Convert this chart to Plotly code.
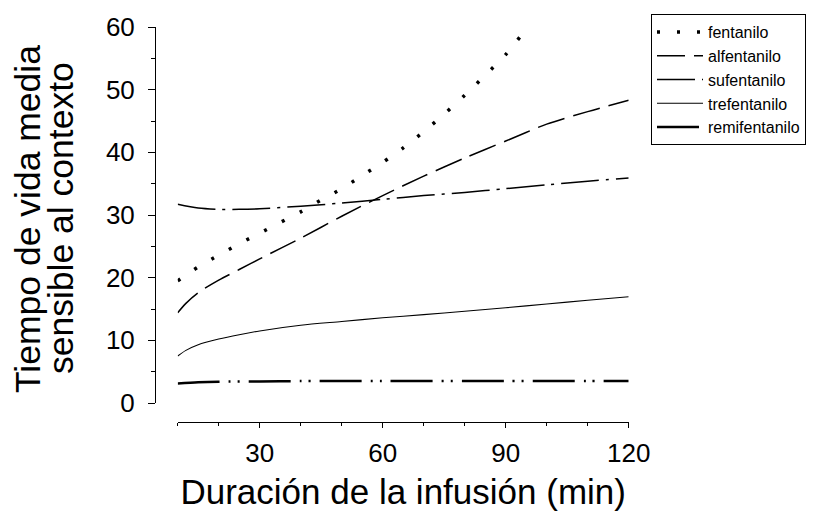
import plotly.graph_objects as go

W, H = 819, 511

# ---- data ----
fent_x = [10, 15, 20, 25, 30, 35, 40, 45, 50, 55, 60, 65, 70, 75, 80, 85, 90, 95]
fent_y = [19.5, 21.7, 23.6, 25.4, 27.1, 28.8, 30.5, 32.4, 34.2, 36.3, 38.4, 40.7, 43.3, 46.1, 49.1, 52.3, 55.6, 59.7]

alf_x = [10, 12, 15, 20, 25, 30, 40, 50, 60, 70, 80, 90, 100, 110, 120]
alf_y = [14.4, 15.9, 17.6, 19.6, 21.3, 23.0, 26.3, 29.8, 33.1, 36.2, 39.1, 41.8, 44.5, 46.5, 48.3]

suf_x = [10, 15, 20, 25, 30, 40, 50, 60, 70, 80, 90, 100, 110, 120]
suf_y = [31.7, 31.1, 30.9, 30.9, 31.0, 31.4, 31.9, 32.5, 33.1, 33.6, 34.2, 34.8, 35.4, 35.9]

tre_x = [10, 12, 15, 20, 25, 30, 40, 50, 60, 70, 80, 90, 100, 110, 120]
tre_y = [7.5, 8.4, 9.3, 10.2, 10.9, 11.5, 12.4, 13.0, 13.6, 14.1, 14.65, 15.2, 15.8, 16.4, 16.95]

remi_x = [10, 15, 20, 30, 40, 50, 60, 70, 80, 90, 100, 110, 120]
remi_y = [3.1, 3.3, 3.4, 3.45, 3.5, 3.5, 3.5, 3.5, 3.5, 3.5, 3.5, 3.5, 3.5]

names = ["fentanilo", "alfentanilo", "sufentanilo", "trefentanilo", "remifentanilo"]
x_title = "Duración de la infusión (min)"
y_title_1 = "Tiempo de vida media"
y_title_2 = "sensible al contexto"

FONT = "Liberation Sans, Arial, sans-serif"

series = [
    (fent_x, fent_y, dict(color="black", width=3.5, dash="3px,17px")),
    (alf_x, alf_y, dict(color="black", width=1.5, dash="28px,9px")),
    (suf_x, suf_y, dict(color="black", width=1.5, dash="38px,7px,3px,7px")),
    (tre_x, tre_y, dict(color="black", width=1.1)),
    (remi_x, remi_y, dict(color="black", width=2.5, dash="42px,9px,2px,7px,2px,9px")),
]

fig = go.Figure()
for (xs, ys, ln), nm in zip(series, names):
    fig.add_trace(go.Scatter(x=xs, y=ys, mode="lines", name=nm,
                             line=dict(shape="spline", smoothing=0.8, **ln)))

px = lambda v: v / W
py = lambda v: 1 - v / H

fig.update_layout(
    width=W, height=H,
    margin=dict(l=0, r=0, t=0, b=0, autoexpand=False),
    paper_bgcolor="white", plot_bgcolor="white",
    font=dict(family=FONT, color="black"),
    showlegend=True,
    legend=dict(x=px(651), y=py(14), xanchor="left", yanchor="top",
                bordercolor="black", borderwidth=1, bgcolor="white",
                font=dict(size=16, family=FONT), tracegroupgap=0,
                itemwidth=46),
    xaxis=dict(domain=[px(177.7), px(628.7)], range=[10, 120],
               anchor="free", position=py(422),
               showline=True, linecolor="black", linewidth=1,
               ticks="outside", ticklen=5, tickcolor="black",
               tick0=0, dtick=30, ticklabelstandoff=3,
               minor=dict(dtick=10, tick0=0, ticks="outside", ticklen=3, tickcolor="black"),
               showgrid=False, zeroline=False, automargin=False,
               tickfont=dict(size=26),
               title=dict(text=x_title, font=dict(size=35), standoff=12)),
    yaxis=dict(domain=[py(403), py(27)], range=[0, 60],
               anchor="free", position=px(155),
               showline=True, linecolor="black", linewidth=1,
               ticks="outside", ticklen=7, tickcolor="black",
               tick0=0, dtick=10, ticklabelstandoff=8,
               minor=dict(dtick=5, tick0=0, ticks="outside", ticklen=4, tickcolor="black"),
               showgrid=False, zeroline=False, automargin=False,
               tickfont=dict(size=26)),
    annotations=[
        dict(text=y_title_1, textangle=-90, x=px(28), y=py(219), xref="paper", yref="paper",
             xanchor="center", yanchor="middle", showarrow=False, font=dict(size=35.5)),
        dict(text=y_title_2, textangle=-90, x=px(61), y=py(218), xref="paper", yref="paper",
             xanchor="center", yanchor="middle", showarrow=False, font=dict(size=35.5)),
    ],
)

fig.write_html("out.html")
